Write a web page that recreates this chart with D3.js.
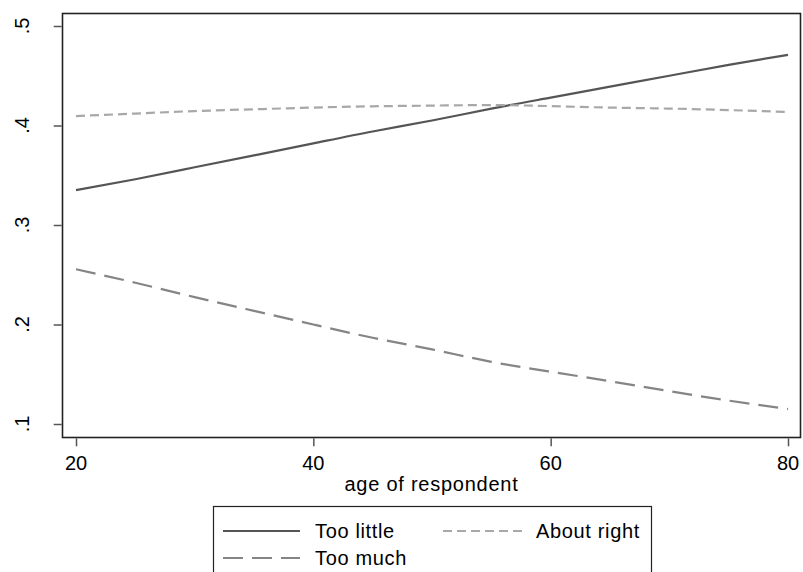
<!DOCTYPE html>
<html><head><meta charset="utf-8">
<script src="https://cdn.jsdelivr.net/npm/d3@7"></script>
<style>body{margin:0;background:#fff}text{font-family:"Liberation Sans",Arial,sans-serif}</style>
</head><body><svg id="c" width="803" height="572"></svg>
<script>
const ages = [20,25,30,35,40,45,50,55,60,65,70,75,80];
const tooLittle = [.335,.346,.358,.370,.382,.394,.405,.417,.428,.439,.450,.461,.471];
const aboutRight = [.4095,.412,.4145,.4163,.418,.4193,.420,.4205,.4195,.418,.417,.4155,.4136];
const tooMuch = [.2555,.242,.2275,.2137,.200,.1867,.175,.1625,.1525,.143,.133,.1235,.115];
const xTicks = [20,40,60,80];
const yTicks = [.1,.2,.3,.4,.5];
const yTickLabels = [".1",".2",".3",".4",".5"];

const series = [
  {name:"Too little", values:tooLittle, color:"#555555", dash:null},
  {name:"About right", values:aboutRight, color:"#a8a8a8", dash:"9,5"},
  {name:"Too much", values:tooMuch, color:"#858585", dash:"20,9"}
];

const svg = d3.select("#c");
const x = d3.scaleLinear().domain([20,80]).range([76,788]);
const y = d3.scaleLinear().domain([.1,.5]).range([424,26]);
const frame = {l:62.5, t:13.5, r:800.5, b:437.5};

// lines
const line = d3.line().x((d,i)=>x(ages[i])).y(d=>y(d)).curve(d3.curveNatural);
svg.selectAll("path.s").data(series).join("path").attr("class","s")
  .attr("d",d=>line(d.values)).attr("fill","none").attr("stroke",d=>d.color)
  .attr("stroke-width",2.2).attr("stroke-dasharray",d=>d.dash);

// frame
svg.append("rect").attr("x",frame.l).attr("y",frame.t).attr("width",frame.r-frame.l).attr("height",frame.b-frame.t)
  .attr("fill","none").attr("stroke","#222").attr("stroke-width",1.6);

// y axis
const ya = svg.append("g").attr("transform",`translate(${frame.l-0.8},0)`)
  .call(d3.axisLeft(y).tickValues(yTicks).tickSize(8).tickFormat((d,i)=>"").tickSizeOuter(0));
ya.select(".domain").remove();
ya.selectAll(".tick line").attr("stroke","#555").attr("stroke-width",1.5);
svg.selectAll("text.yl").data(yTicks).join("text").attr("class","yl")
  .attr("transform",d=>`translate(29,${y(d)}) rotate(-90)`).attr("text-anchor","middle")
  .attr("font-size",20).attr("fill","#000").text((d,i)=>yTickLabels[i]);

// x axis
const xa = svg.append("g").attr("transform",`translate(0,${frame.b+0.8})`)
  .call(d3.axisBottom(x).tickValues(xTicks).tickSize(8).tickFormat("").tickSizeOuter(0));
xa.select(".domain").remove();
xa.selectAll(".tick line").attr("stroke","#555").attr("stroke-width",1.5);
svg.selectAll("text.xl").data(xTicks).join("text").attr("class","xl")
  .attr("x",d=>x(d)).attr("y",470).attr("text-anchor","middle").attr("font-size",20).text(d=>d);
svg.append("text").attr("x",(frame.l+frame.r)/2).attr("y",491).attr("text-anchor","middle")
  .attr("font-size",20).attr("letter-spacing","0.75px").text("age of respondent");

// legend
svg.append("rect").attr("x",213.5).attr("y",506.5).attr("width",438).attr("height",80)
  .attr("fill","#fff").attr("stroke","#222").attr("stroke-width",1.2);
const pos = [{lx:223,tx:315,y:531},{lx:443,tx:536,y:531},{lx:223,tx:315,y:558}];
const lg = svg.selectAll("g.lg").data(series).join("g").attr("class","lg");
lg.append("line").attr("x1",(d,i)=>pos[i].lx).attr("x2",(d,i)=>pos[i].lx+(i==1?80:77))
  .attr("y1",(d,i)=>pos[i].y).attr("y2",(d,i)=>pos[i].y)
  .attr("stroke",d=>d.color).attr("stroke-width",2.2).attr("stroke-dasharray",d=>d.dash);
lg.append("text").attr("x",(d,i)=>pos[i].tx).attr("y",(d,i)=>pos[i].y+7)
  .attr("font-size",20).attr("letter-spacing","0.65px").text(d=>d.name);
</script></body></html>
